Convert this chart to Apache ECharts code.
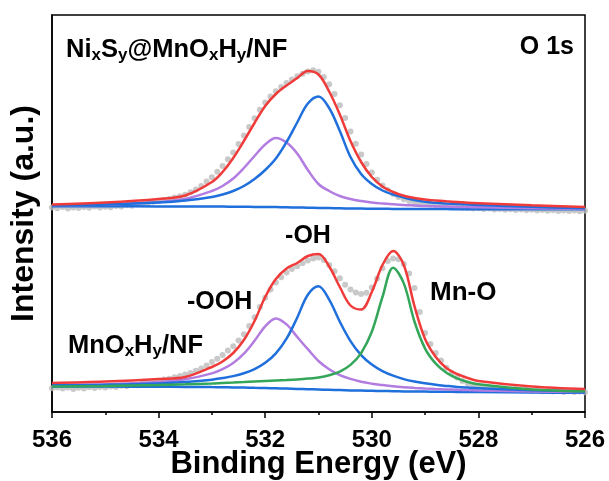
<!DOCTYPE html>
<html>
<head>
<meta charset="utf-8">
<title>O 1s XPS</title>
<script src="https://cdn.jsdelivr.net/npm/echarts@6/dist/echarts.min.js"></script>
<style>
  html, body { margin: 0; padding: 0; background: #fff; }
  #chart { width: 609px; height: 481px; }
</style>
</head>
<body>
<div id="chart"></div>
<script>
// binding energy (eV) of the fitted curves
var fitEnergy = [536, 535, 534, 533.5, 533, 532.8, 532.6, 532.4, 532.2, 532, 531.8, 531.6, 531.4, 531.2, 531, 530.8,
  530.6, 530.4, 530.2, 530, 529.8, 529.6, 529.4, 529.2, 529, 528.8, 528.6, 528.4, 528.2, 528, 527, 526];

// NixSy@MnOxHy/NF (offset upward)
var upEnvelope = [207.5, 209.5, 213, 216.5, 230, 240, 254, 271, 289, 306, 318, 326.5, 334, 341, 337.5, 320.5,
  297.5, 271, 250, 235, 225.5, 220, 216.2, 214, 212.5, 211.5, 210.7, 210, 209.3, 208.8, 206.7, 205];
var upOH = [206.5, 207.5, 209.5, 211.5, 215, 217.5, 221, 226, 233, 242, 253.5, 270, 289.5, 308.5, 315.5, 304,
  281, 255, 238, 228, 221.5, 217.5, 214.5, 212, 210.2, 209.2, 208.5, 207.9, 207.4, 207, 205.2, 203.7];
var upOOH = [206.5, 207.5, 210, 213, 221, 226, 233.5, 244, 256, 267.5, 274, 269.5, 258.5, 242, 228, 221,
  216, 213, 211, 209.5, 208.5, 207.7, 207, 206.5, 206, 205.7, 205.4, 205.1, 204.9, 204.7, 203.7, 203];
var upBackground = [205.7, 205.7, 205.6, 205.5, 205.4, 205.4, 205.3, 205.2, 205.1, 205, 204.9, 204.7, 204.5, 204.3, 204.1, 203.9,
  203.7, 203.5, 203.4, 203.3, 203.2, 203.1, 203, 203, 202.9, 202.9, 202.9, 202.8, 202.8, 202.8, 202.7, 202.7];

// MnOxHy/NF
var lowEnvelope = [29, 30.5, 33, 35, 45, 50.5, 59, 72, 91, 115, 133, 143.5, 149, 156, 158, 145.5,
  125, 106.5, 102.5, 120, 147, 161, 147, 106, 73, 55, 44, 38, 34, 31, 25.5, 23];
var lowOH = [26.7, 27.3, 28.6, 30, 32.3, 33.9, 35.9, 38.8, 42.9, 49.2, 58.7, 73.3, 94.3, 117.3, 125.8, 112.4,
  90.3, 70.9, 56.9, 47.4, 40.9, 36.3, 32.9, 30.5, 28.7, 27.2, 26.1, 25.1, 24.4, 23.8, 21.8, 20.6];
var lowOOH = [26.9, 27.7, 30, 32.7, 38.6, 42.8, 49, 58.3, 71.2, 85.7, 93.6, 87.6, 75.1, 62.8, 51, 42.7,
  36.9, 33.1, 30.2, 28.3, 26.9, 25.7, 24.8, 24.1, 23.5, 23, 22.6, 22.2, 21.9, 21.6, 20.6, 19.9];
var lowMnO = [25.5, 26, 27, 27.7, 28.5, 29, 29.4, 29.9, 30.5, 31, 31.5, 32, 32.6, 33.4, 34.5, 36.7,
  40.4, 47.1, 58.9, 80.2, 115, 144.3, 128.6, 90.5, 63.4, 48.3, 39.2, 33.6, 30, 27.7, 22.5, 20.7];
var lowBackground = [25.5, 25.4, 25.2, 25.1, 24.9, 24.8, 24.6, 24.4, 24.2, 24, 23.7, 23.4, 23.1, 22.8, 22.5, 22.2,
  21.9, 21.6, 21.4, 21.2, 21, 20.8, 20.6, 20.5, 20.4, 20.3, 20.2, 20.1, 20, 19.9, 19.5, 19.2];

// measured points
var rawEnergy = [536, 535.9, 535.8, 535.7, 535.6, 535.5, 535.4, 535.3, 535.2, 535.1,
  535, 534.9, 534.8, 534.7, 534.6, 534.5, 534.4, 534.3, 534.2, 534.1,
  534, 533.9, 533.8, 533.7, 533.6, 533.5, 533.4, 533.3, 533.2, 533.1,
  533, 532.9, 532.8, 532.7, 532.6, 532.5, 532.4, 532.3, 532.2, 532.1,
  532, 531.9, 531.8, 531.7, 531.6, 531.5, 531.4, 531.3, 531.2, 531.1,
  531, 530.9, 530.8, 530.7, 530.6, 530.5, 530.4, 530.3, 530.2, 530.1,
  530, 529.9, 529.8, 529.7, 529.6, 529.5, 529.4, 529.3, 529.2, 529.1,
  529, 528.9, 528.8, 528.7, 528.6, 528.5, 528.4, 528.3, 528.2, 528.1,
  528, 527.9, 527.8, 527.7, 527.6, 527.5, 527.4, 527.3, 527.2, 527.1,
  527, 526.9, 526.8, 526.7, 526.6, 526.5, 526.4, 526.3, 526.2, 526.1, 526];
var upRaw = [204.5, 203.8, 204.9, 203.4, 204.6, 204.0, 205.0, 204.2, 205.4, 204.5,
  205.2, 204.8, 206.1, 205.5, 206.8, 206.2, 207.7, 208.4, 209.1, 210.3,
  210.8, 212.0, 213.1, 214.6, 215.8, 217.2, 219.7, 222.4, 226.0, 230.5,
  234.8, 240.2, 246.0, 252.7, 259.6, 267.9, 276.4, 285.0, 293.7, 302.2,
  309.6, 315.5, 320.8, 324.9, 329.0, 332.4, 335.8, 338.2, 340.5, 341.8,
  340.2, 335.0, 327.7, 318.0, 306.8, 294.0, 280.5, 268.2, 257.4, 248.0,
  239.6, 232.2, 226.5, 221.8, 218.0, 214.9, 212.7, 211.0, 209.6, 208.8,
  207.9, 207.4, 206.7, 206.2, 205.6, 205.1, 204.8, 204.2, 203.9, 203.5,
  203.7, 203.0, 203.4, 202.6, 202.9, 202.2, 202.7, 201.9, 202.4, 201.7,
  202.2, 201.5, 202.0, 201.2, 201.8, 201.1, 201.6, 201.0, 201.4, 200.8, 201.2];
var lowRaw = [23.8, 24.6, 23.4, 24.4, 23.1, 24.2, 23.6, 24.8, 24.0, 25.1,
  24.4, 25.5, 24.9, 26.2, 25.7, 27.1, 26.8, 28.4, 29.0, 30.3,
  31.0, 32.4, 33.2, 34.7, 36.0, 37.4, 38.9, 41.2, 43.5, 46.6,
  50.0, 53.3, 57.0, 61.4, 65.7, 71.5, 77.8, 86.0, 94.7, 105.0,
  114.2, 122.6, 129.4, 134.8, 139.5, 143.0, 145.7, 148.8, 151.6, 153.5,
  154.4, 151.9, 147.0, 140.7, 133.8, 127.3, 122.4, 119.6, 118.0, 119.2,
  124.5, 133.4, 143.8, 151.0, 153.5, 152.7, 148.0, 138.5, 124.0, 100.0,
  79.0, 68.0, 59.0, 51.5, 44.2, 38.8, 34.4, 31.1, 28.5, 26.8,
  25.4, 24.7, 23.5, 24.1, 22.8, 23.4, 22.2, 22.9, 21.7, 22.4,
  21.3, 22.0, 20.8, 21.6, 20.5, 21.2, 20.1, 20.8, 19.9, 20.5, 19.7];

var xTicks = [536, 534, 532, 530, 528, 526];

var RED = '#f03b3b', BLUE = '#1f6fdc', PURPLE = '#b27ce0', GREEN = '#33a65a', GREY = '#bcbcbc';
var FONT = '"Liberation Sans", Arial, sans-serif';

function pairs(xs, ys) {
  return xs.map(function (x, i) { return [x, ys[i]]; });
}

function curve(name, ys, color, z) {
  return {
    name: name,
    type: 'line',
    data: pairs(fitEnergy, ys),
    smooth: 0.35,
    symbol: 'none',
    z: z,
    lineStyle: { color: color, width: 2.5 }
  };
}

function dots(ys) {
  return {
    type: 'scatter',
    data: pairs(rawEnergy, ys),
    symbolSize: 6,
    z: 1,
    itemStyle: { color: GREY }
  };
}

var richName = {
  m: { fontSize: 25.5, fontWeight: 'bold', fontFamily: FONT, lineHeight: 28, verticalAlign: 'middle', fill: '#000' },
  s: { fontSize: 17, fontWeight: 'bold', fontFamily: FONT, lineHeight: 17, verticalAlign: 'bottom', fill: '#000' }
};

function label(text, x, y, align, size) {
  return {
    type: 'text', x: x, y: y, z: 10,
    style: {
      text: text, fill: '#000', fontSize: size, fontWeight: 'bold', fontFamily: FONT,
      align: align, verticalAlign: 'middle'
    }
  };
}

var chart = echarts.init(document.getElementById('chart'));
chart.setOption({
  animation: false,
  backgroundColor: '#fff',
  grid: {
    left: 52, right: 24, top: 15, bottom: 69,
    outerBoundsMode: 'none',
    containLabel: false,
    show: true, borderColor: '#000', borderWidth: 1.5
  },
  xAxis: {
    type: 'value',
    min: 526, max: 536, interval: 2,
    inverse: true,
    name: 'Binding Energy (eV)',
    nameLocation: 'middle',
    nameGap: 37,
    nameMoveOverlap: false,
    nameTextStyle: { fontSize: 31, fontWeight: 'bold', fontFamily: FONT, color: '#000' },
    axisLine: { show: true, lineStyle: { color: '#000', width: 1.5 } },
    axisTick: { show: true, length: 6, lineStyle: { color: '#000', width: 1.5 } },
    minorTick: { show: true, splitNumber: 2, length: 3, lineStyle: { color: '#000', width: 1.5 } },
    axisLabel: {
      fontSize: 24, fontWeight: 'bold', fontFamily: FONT, color: '#000', margin: 16,
      formatter: function (v) { return xTicks.indexOf(v) >= 0 ? String(v) : ''; }
    },
    splitLine: { show: false }
  },
  yAxis: {
    type: 'value',
    min: 0, max: 397,
    name: 'Intensity (a.u.)',
    nameLocation: 'middle',
    nameGap: 12,
    nameMoveOverlap: false,
    nameTextStyle: { fontSize: 32, fontWeight: 'bold', fontFamily: FONT, color: '#000' },
    axisLine: { show: true, lineStyle: { color: '#000', width: 1.5 } },
    axisTick: { show: false },
    axisLabel: { show: false },
    splitLine: { show: false }
  },
  series: [
    dots(upRaw),
    dots(lowRaw),
    curve('upper background', upBackground, BLUE, 2),
    curve('upper -OOH', upOOH, PURPLE, 3),
    curve('upper -OH', upOH, BLUE, 4),
    curve('upper envelope', upEnvelope, RED, 6),
    curve('lower background', lowBackground, BLUE, 2),
    curve('lower -OOH', lowOOH, PURPLE, 3),
    curve('lower -OH', lowOH, BLUE, 4),
    curve('lower Mn-O', lowMnO, GREEN, 5),
    curve('lower envelope', lowEnvelope, RED, 6)
  ],
  graphic: [
    {
      type: 'text', x: 66, y: 49.5, z: 10,
      style: {
        text: '{m|Ni}{s|x}{m|S}{s|y}{m|@MnO}{s|x}{m|H}{s|y}{m|/NF}',
        rich: richName, align: 'left', verticalAlign: 'middle'
      }
    },
    {
      type: 'text', x: 68, y: 345.5, z: 10,
      style: {
        text: '{m|MnO}{s|x}{m|H}{s|y}{m|/NF}',
        rich: richName, align: 'left', verticalAlign: 'middle'
      }
    },
    label('O 1s', 574, 47, 'right', 25),
    label('-OH', 308, 236, 'center', 25),
    label('-OOH', 187, 302.5, 'left', 25),
    label('Mn-O', 430, 292.5, 'left', 26)
  ]
});
</script>
</body>
</html>
